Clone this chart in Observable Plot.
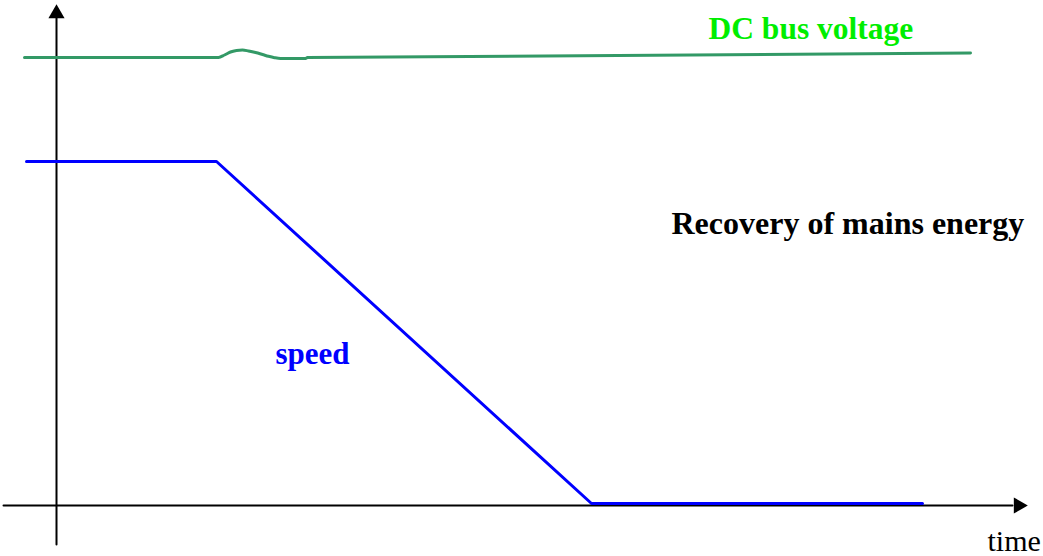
<!DOCTYPE html>
<html>
<head>
<meta charset="utf-8">
<script src="https://cdn.jsdelivr.net/npm/d3@7"></script>
<script src="https://cdn.jsdelivr.net/npm/@observablehq/plot@0.6"></script>
<style>
  html, body { margin: 0; padding: 0; background: #fff; }
  #chart svg { display: block; }
</style>
</head>
<body>
<div id="chart"></div>
<script>
// Speed trace (time, level)
const speedTime = [-30, 160, 535, 866];
const speedLevel = [344, 344, 2, 2];

// DC bus voltage trace (time, level)
const busTime = [-32, 162, 168, 174, 180, 186, 192, 199, 206, 212, 218, 224, 236, 249, 251, 914];
const busLevel = [448, 448, 450.5, 453.5, 455, 455.5, 454.5, 453, 451, 449.2, 447.8, 447, 447, 447, 448, 452.5];

// Axes extents
const xAxisTime = [-53, 956];
const xAxisArrow = 962;
const yAxisLevel = [-39, 490];
const yAxisArrow = 492;

// Labels
const labels = [
  {text: "DC bus voltage", t: 652, v: 467, color: "#00ee00", weight: "bold", size: 31.5},
  {text: "Recovery of mains energy", t: 615, v: 272, color: "#000000", weight: "bold", size: 32},
  {text: "speed", t: 219, v: 142, color: "#0000ff", weight: "bold", size: 31},
  {text: "time", t: 931, v: -45, color: "#000000", weight: "normal", size: 30}
];

const speed = speedTime.map((t, i) => ({t, v: speedLevel[i]}));
const bus = busTime.map((t, i) => ({t, v: busLevel[i]}));

const chart = Plot.plot({
  width: 1043,
  height: 556,
  margin: 0,
  x: {domain: [-56, 987], axis: null},
  y: {domain: [-51, 505], axis: null},
  style: {fontFamily: "'Liberation Serif', 'Times New Roman', serif", background: "#fff"},
  marks: [
    // axes
    Plot.line([{t: xAxisTime[0], v: 0}, {t: xAxisTime[1], v: 0}], {x: "t", y: "v", stroke: "#000", strokeWidth: 2}),
    Plot.line([{t: 0, v: yAxisLevel[0]}, {t: 0, v: yAxisLevel[1]}], {x: "t", y: "v", stroke: "#000", strokeWidth: 2}),
    Plot.dot([{t: xAxisArrow, v: 0}], {x: "t", y: "v", symbol: "triangle", r: 6, rotate: 90, fill: "#000", stroke: "none"}),
    Plot.dot([{t: 0, v: yAxisArrow}], {x: "t", y: "v", symbol: "triangle", r: 6, fill: "#000", stroke: "none"}),
    // traces
    Plot.line(bus, {x: "t", y: "v", stroke: "#339966", strokeWidth: 3, curve: "monotone-x"}),
    Plot.line(speed, {x: "t", y: "v", stroke: "#0000ff", strokeWidth: 3}),
    // labels
    ...labels.map(d => Plot.text([d], {x: "t", y: "v", text: "text", fill: d.color, fontWeight: d.weight, fontSize: d.size, textAnchor: "start", lineAnchor: "bottom"}))
  ]
});
document.getElementById("chart").appendChild(chart);
</script>
</body>
</html>
